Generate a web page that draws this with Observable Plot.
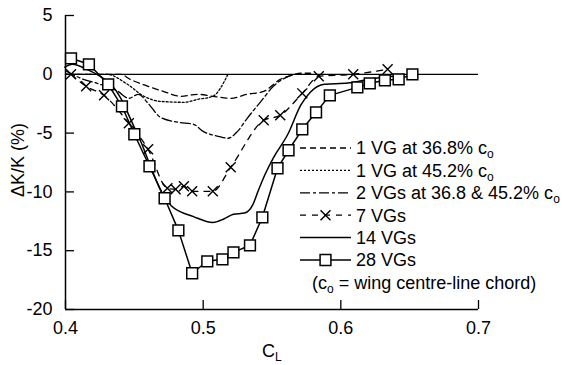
<!DOCTYPE html>
<html>
<head>
<meta charset="utf-8">
<script src="https://cdn.jsdelivr.net/npm/d3@7"></script>
<script src="https://cdn.jsdelivr.net/npm/@observablehq/plot@0.6"></script>
<style>
  html, body { margin: 0; padding: 0; background: #fff; }
  #chart { width: 571px; height: 365px; }
</style>
</head>
<body>
<div id="chart"></div>
<script>
// Change in induced-drag factor versus lift coefficient for vortex generator (VG) layouts

// 1 VG at 36.8% chord
const cl368 = [0.400, 0.420, 0.440, 0.447, 0.460, 0.471, 0.484, 0.496, 0.507, 0.520, 0.532, 0.544, 0.556, 0.564, 0.571, 0.578];
const dk368 = [0, 0, 0, -0.43, -1.02, -1.45, -1.87, -1.70, -1.87, -2.04, -1.70, -1.45, -0.43, -0.09, 0.09, 0.09];

// 1 VG at 45.2% chord
const cl452 = [0.400, 0.430, 0.445, 0.457, 0.469, 0.486, 0.496, 0.507, 0.518];
const dk452 = [0, 0, -0.85, -1.87, -2.30, -2.38, -2.13, -1.87, 0];

// 2 VGs at 36.8% and 45.2% chord
const cl2vg = [0.400, 0.411, 0.423, 0.438, 0.446, 0.453, 0.460, 0.469, 0.482, 0.493, 0.500, 0.511, 0.518, 0.525, 0.532, 0.542, 0.551, 0.562, 0.567];
const dk2vg = [0.3, -0.34, -0.77, -1.45, -2.04, -1.70, -2.47, -3.66, -4.08, -4.25, -4.85, -5.27, -5.44, -4.85, -3.74, -2.30, -1.02, -0.17, 0];

// 7 VGs
const cl7vg = [0.404, 0.415, 0.428, 0.446, 0.460, 0.474, 0.480, 0.486, 0.492, 0.507, 0.520, 0.544, 0.556, 0.572, 0.584, 0.609, 0.634];
const dk7vg = [0, -1.02, -1.79, -4.17, -6.38, -9.69, -9.78, -9.52, -9.95, -9.95, -7.91, -3.91, -3.49, -1.62, -0.17, 0, 0.43];

// 14 VGs
const cl14vg = [0.3995, 0.405, 0.416, 0.4255, 0.433, 0.440, 0.448, 0.455, 0.462, 0.4705, 0.477, 0.493, 0.507, 0.515, 0.522, 0.530, 0.536, 0.540, 0.545, 0.551, 0.5615, 0.571, 0.578, 0.588, 0.605, 0.624, 0.644];
const dk14vg = [0.6, 0.85, 0.4, -0.2, -0.85, -2.0, -4.0, -5.8, -7.9, -10.2, -11.2, -12.1, -12.6, -12.3, -11.9, -11.8, -11.1, -9.9, -8.5, -7.1, -5.1, -2.6, -1.5, -0.85, -0.75, -0.35, -0.1];

// 28 VGs
const cl28vg = [0.404, 0.417, 0.431, 0.441, 0.450, 0.461, 0.472, 0.482, 0.492, 0.503, 0.514, 0.522, 0.534, 0.543, 0.554, 0.562, 0.572, 0.582, 0.592, 0.612, 0.621, 0.632, 0.642, 0.652];
const dk28vg = [1.36, 0.85, -0.85, -2.72, -5.10, -7.82, -10.54, -13.27, -16.92, -15.90, -15.73, -15.14, -14.54, -12.16, -7.99, -6.46, -4.68, -3.23, -1.79, -1.11, -0.77, -0.51, -0.43, 0];

// Axis ticks
const xTicks = [0.4, 0.5, 0.6, 0.7];
const yTicks = [5, 0, -5, -10, -15, -20];

// Legend entries
const legendLabels = ["1 VG at 36.8% c", "1 VG at 45.2% c", "2 VGs at 36.8 & 45.2% c", "7 VGs", "14 VGs", "28 VGs"];
const legendSubs = ["o", "o", "o", "", "", ""];

const zip = (xs, ys) => xs.map((x, i) => ({cl: x, dk: ys[i]}));
const s368 = zip(cl368, dk368);
const s452 = zip(cl452, dk452);
const s2vg = zip(cl2vg, dk2vg);
const s7vg = zip(cl7vg, dk7vg);
const s14vg = zip(cl14vg, dk14vg);
const s28vg = zip(cl28vg, dk28vg);

const FONT = "'Liberation Sans', Arial, Helvetica, sans-serif";
const FS = 18, SUB = 12, SUBDY = 4;
const styles = [
  {dash: "6,4", width: 1.3},
  {dash: "2,2", width: 1.3},
  {dash: "10,3,3,3", width: 1.3},
  {dash: "6,6", width: 1.3},
  {dash: null, width: 1.5},
  {dash: null, width: 1.5}
];

const plot = Plot.plot({
  width: 571,
  height: 365,
  marginLeft: 65,
  marginRight: 93,
  marginTop: 15,
  marginBottom: 56,
  style: {fontFamily: FONT, fontSize: FS + "px", color: "#000", background: "#fff", overflow: "visible"},
  x: {domain: [0.4, 0.7]},
  y: {domain: [-20, 5]},
  marks: [
    Plot.ruleY([0], {stroke: "#000", strokeWidth: 1.3}),
    Plot.axisX({ticks: xTicks, tickSize: -9, tickPadding: 21, tickFormat: d3.format(".1f"), label: null, strokeWidth: 1.3}),
    Plot.axisY({ticks: yTicks, tickSize: -9, tickPadding: 22, tickFormat: d => String(d), label: null, strokeWidth: 1.3}),
    Plot.ruleX([0.4], {stroke: "#000", strokeWidth: 1.5}),
    Plot.ruleY([-20], {stroke: "#000", strokeWidth: 1.5}),
    Plot.line(s368, {x: "cl", y: "dk", curve: "monotone-x", stroke: "#000", strokeWidth: styles[0].width, strokeDasharray: styles[0].dash}),
    Plot.line(s452, {x: "cl", y: "dk", curve: "monotone-x", stroke: "#000", strokeWidth: styles[1].width, strokeDasharray: styles[1].dash}),
    Plot.line(s2vg, {x: "cl", y: "dk", curve: "monotone-x", stroke: "#000", strokeWidth: styles[2].width, strokeDasharray: styles[2].dash}),
    Plot.line(s7vg, {x: "cl", y: "dk", curve: "monotone-x", stroke: "#000", strokeWidth: styles[3].width, strokeDasharray: styles[3].dash}),
    Plot.dot(s7vg, {x: "cl", y: "dk", symbol: "times", r: 4.6, stroke: "#000", strokeWidth: 1.4}),
    Plot.line(s14vg, {x: "cl", y: "dk", curve: "monotone-x", stroke: "#000", strokeWidth: styles[4].width}),
    Plot.line(s28vg, {x: "cl", y: "dk", stroke: "#000", strokeWidth: styles[5].width}),
    Plot.dot(s28vg, {x: "cl", y: "dk", symbol: "square", r: 6.1, fill: "#fff", stroke: "#000", strokeWidth: 1.5})
  ]
});

document.getElementById("chart").appendChild(plot);

// Titles and legend drawn on top of the plot's SVG
const svg = d3.select(plot);
const g = svg.append("g")
  .attr("font-family", FONT)
  .attr("fill", "#000")
  .attr("text-anchor", "start");

// y-axis title
g.append("text")
  .attr("transform", "translate(24,160) rotate(-90)")
  .attr("text-anchor", "middle")
  .attr("font-size", FS)
  .text("\u0394K/K (%)");

// x-axis title with subscript
const xt = g.append("text").attr("x", 262).attr("y", 357).attr("font-size", FS);
xt.append("tspan").text("C");
xt.append("tspan").attr("font-size", SUB).attr("dy", SUBDY).text("L");

// legend
const lgX0 = 300, lgX1 = 351, lgTx = 356, lgY0 = 148, lgDy = 22.4;
legendLabels.forEach((lab, i) => {
  const y = lgY0 + i * lgDy;
  const st = styles[i];
  const ln = g.append("line")
    .attr("x1", lgX0).attr("x2", lgX1).attr("y1", y).attr("y2", y)
    .attr("stroke", "#000").attr("stroke-width", st.width);
  if (st.dash) ln.attr("stroke-dasharray", st.dash);
  const mx = (lgX0 + lgX1) / 2;
  if (i === 3) {
    g.append("path")
      .attr("transform", `translate(${mx},${y})`)
      .attr("d", d3.symbol(d3.symbolTimes, Math.PI * 4.6 * 4.6)())
      .attr("fill", "none").attr("stroke", "#000").attr("stroke-width", 1.4);
  }
  if (i === 5) {
    g.append("path")
      .attr("transform", `translate(${mx},${y})`)
      .attr("d", d3.symbol(d3.symbolSquare, Math.PI * 6.1 * 6.1)())
      .attr("fill", "#fff").attr("stroke", "#000").attr("stroke-width", 1.5);
  }
  const t = g.append("text").attr("x", lgTx).attr("y", y).attr("dy", "0.35em").attr("font-size", FS);
  t.append("tspan").text(lab);
  if (legendSubs[i]) t.append("tspan").attr("font-size", SUB).attr("dy", SUBDY).text(legendSubs[i]);
});

// note on the chord reference
const note = g.append("text").attr("x", 312).attr("y", lgY0 + 6 * lgDy).attr("dy", "0.35em").attr("font-size", FS);
note.append("tspan").text("(c");
note.append("tspan").attr("font-size", SUB).attr("dy", SUBDY).text("o");
note.append("tspan").attr("dy", -SUBDY).text(" = wing centre-line chord)");
</script>
</body>
</html>
